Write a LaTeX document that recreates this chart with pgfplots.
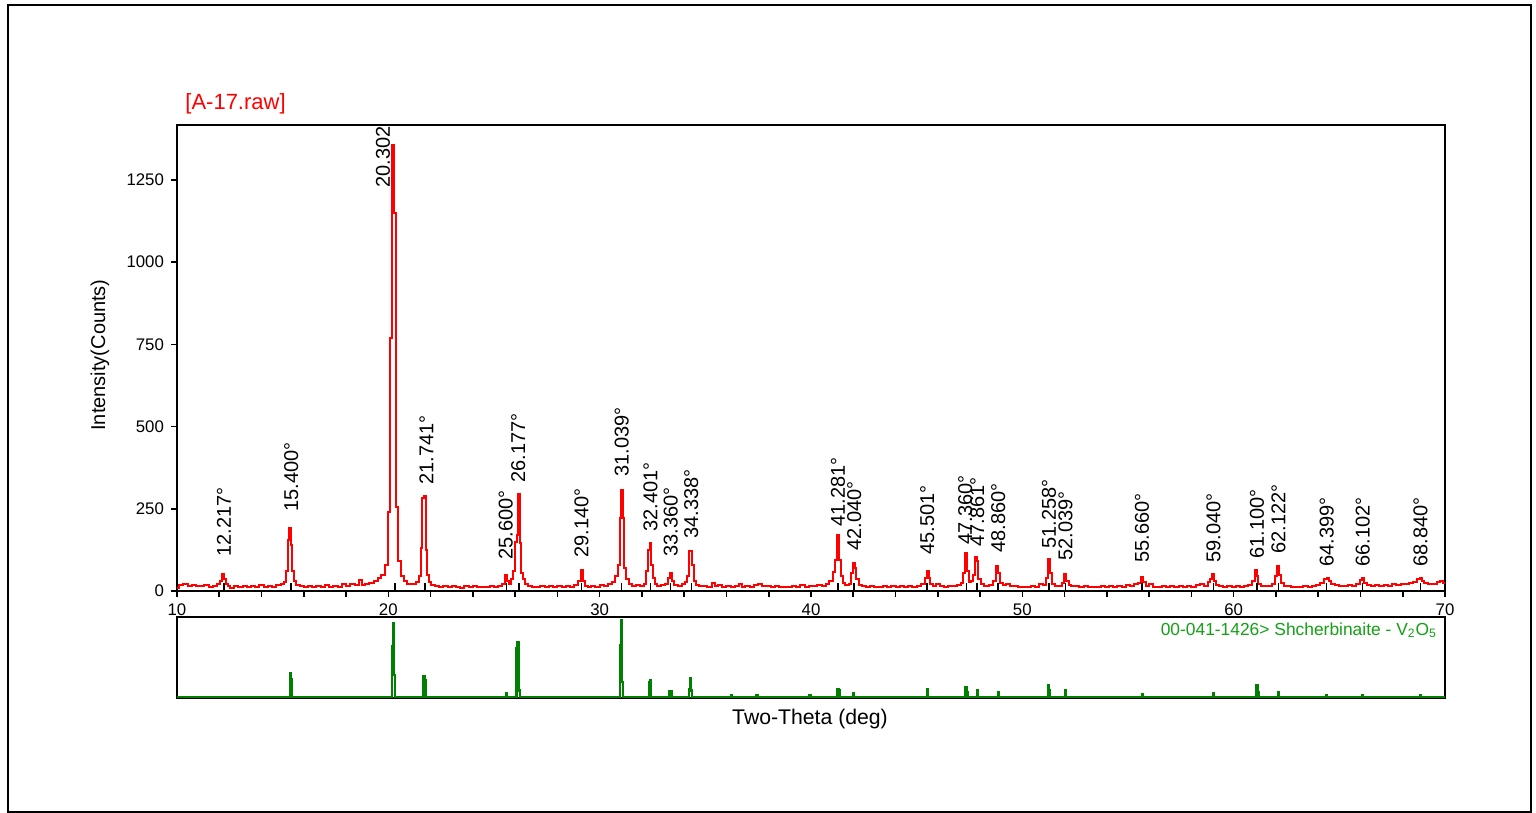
\documentclass[border=0pt]{standalone}
\usepackage{fontspec}
\setmainfont{Liberation Sans}
\usepackage{pgfplots}
\pgfplotsset{compat=1.18}
\definecolor{xred}{RGB}{255,0,0}
\definecolor{xgreen}{RGB}{0,128,0}
\definecolor{lblgreen}{RGB}{20,160,20}
\begin{document}
\begin{tikzpicture}[x=1pt,y=1pt]
\path[use as bounding box] (0,0) rectangle (768,406.5);
\draw[line width=1.2pt] (4,0.6) rectangle (765.5,404);
\begin{axis}[
  at={(88.5pt,111pt)}, anchor=south west,
  scale only axis, width=634pt, height=233pt,
  xmin=10, xmax=70, ymin=0, ymax=1417,
  axis line style={line width=1pt},
  xtick={10,20,...,70}, minor xtick={12,14,...,68},
  ytick={0,250,...,1250},
  tick align=outside, xtick pos=left, ytick pos=left,
  major tick length=3pt, minor tick length=3pt,
  tick style={black, line width=0.8pt},
  ticklabel style={font=\fontsize{8.4}{9}\selectfont},
  /pgf/number format/assume math mode=true,
  /pgf/number format/1000 sep={},
  every node/.append style={font=\fontsize{9}{10}\selectfont},
]
\addplot[xred, line width=1pt, const plot mark mid] coordinates {
(10.0,8) (10.2,18) (10.4,20) (10.6,14) (10.8,19) (11.0,16) (11.2,14) (11.4,18) (11.6,13) (11.8,16)
(12.0,22) (12.1,30) (12.2,52) (12.27,35) (12.35,20) (12.45,14) (12.6,10) (12.8,15) (13.0,12) (13.2,16)
(13.4,11) (13.6,15) (13.8,12) (14.0,17) (14.2,12) (14.4,16) (14.6,13) (14.8,18) (15.0,20) (15.1,26)
(15.2,62) (15.28,155) (15.36,192) (15.43,140) (15.5,62) (15.58,30) (15.7,18) (15.9,14) (16.1,12) (16.3,15)
(16.5,11) (16.7,14) (16.9,13) (17.1,17) (17.3,12) (17.5,16) (17.7,13) (17.9,20) (18.1,15) (18.3,22)
(18.5,18) (18.7,32) (18.8,18) (19.0,22) (19.2,25) (19.4,30) (19.6,38) (19.75,50) (19.9,80) (20.03,240)
(20.14,770) (20.24,1356) (20.33,1150) (20.42,255) (20.52,90) (20.65,45) (20.8,30) (21.0,22) (21.2,20) (21.4,28)
(21.5,45) (21.58,130) (21.65,282) (21.72,288) (21.8,125) (21.88,50) (21.97,28) (22.1,18) (22.3,14) (22.5,12)
(22.7,15) (22.9,11) (23.1,14) (23.3,12) (23.5,10) (23.7,14) (23.9,12) (24.1,16) (24.3,11) (24.5,13)
(24.7,12) (24.9,14) (25.1,13) (25.3,15) (25.45,22) (25.55,48) (25.65,30) (25.75,22) (25.85,35) (25.95,60)
(26.05,150) (26.12,170) (26.18,295) (26.24,145) (26.32,55) (26.42,35) (26.55,22) (26.7,16) (26.9,13) (27.1,12)
(27.3,15) (27.5,11) (27.7,14) (27.9,13) (28.1,16) (28.3,12) (28.5,14) (28.7,13) (28.9,18) (29.05,30)
(29.15,64) (29.25,30) (29.35,16) (29.5,12) (29.7,15) (29.9,13) (30.1,18) (30.3,14) (30.5,20) (30.65,28)
(30.8,45) (30.9,80) (30.98,222) (31.05,307) (31.12,222) (31.2,70) (31.3,35) (31.45,22) (31.6,15) (31.8,18)
(32.0,14) (32.15,22) (32.25,60) (32.32,125) (32.4,146) (32.47,79) (32.55,40) (32.65,22) (32.8,15) (33.0,18)
(33.15,20) (33.3,40) (33.38,55) (33.46,30) (33.6,18) (33.8,15) (33.95,20) (34.1,28) (34.2,45) (34.3,122)
(34.4,80) (34.48,30) (34.6,18) (34.8,14) (35.0,16) (35.2,13) (35.4,25) (35.5,14) (35.7,18) (35.9,12)
(36.1,15) (36.3,12) (36.5,14) (36.7,22) (36.8,13) (37.0,15) (37.2,12) (37.4,18) (37.6,20) (37.8,14)
(38.0,16) (38.2,12) (38.4,14) (38.6,11) (38.8,13) (39.0,12) (39.2,15) (39.4,13) (39.6,18) (39.8,12)
(40.0,16) (40.2,14) (40.4,18) (40.6,15) (40.8,20) (40.95,30) (41.1,58) (41.2,94) (41.28,170) (41.36,94)
(41.45,45) (41.55,25) (41.7,18) (41.85,22) (41.95,55) (42.03,85) (42.1,70) (42.2,35) (42.35,18) (42.5,14)
(42.7,12) (42.9,15) (43.1,13) (43.3,11) (43.5,14) (43.7,12) (43.9,16) (44.1,13) (44.3,15) (44.5,12)
(44.7,14) (44.9,13) (45.1,16) (45.3,20) (45.45,40) (45.52,61) (45.6,40) (45.7,22) (45.85,16) (46.0,22)
(46.2,14) (46.4,13) (46.6,16) (46.8,14) (47.0,18) (47.15,25) (47.25,55) (47.35,115) (47.42,60) (47.5,28)
(47.6,30) (47.7,50) (47.8,103) (47.88,90) (47.95,35) (48.1,20) (48.3,16) (48.5,18) (48.7,30) (48.82,76)
(48.9,55) (49.0,25) (49.15,18) (49.3,20) (49.5,16) (49.7,14) (49.9,12) (50.1,13) (50.3,12) (50.5,14)
(50.7,13) (50.9,22) (51.05,18) (51.15,40) (51.25,97) (51.33,55) (51.45,22) (51.6,15) (51.8,14) (51.95,25)
(52.04,52) (52.12,30) (52.25,18) (52.4,14) (52.6,15) (52.8,12) (53.0,14) (53.2,12) (53.4,13) (53.6,11)
(53.8,14) (54.0,13) (54.2,15) (54.4,12) (54.6,16) (54.8,13) (55.0,18) (55.2,14) (55.4,20) (55.55,25)
(55.66,43) (55.76,28) (55.9,16) (56.1,22) (56.3,13) (56.5,12) (56.7,15) (56.9,13) (57.1,14) (57.3,12)
(57.5,16) (57.7,13) (57.9,15) (58.1,12) (58.3,18) (58.5,20) (58.7,16) (58.85,28) (58.95,35) (59.04,52)
(59.12,30) (59.25,18) (59.4,15) (59.6,12) (59.8,14) (60.0,13) (60.2,15) (60.4,12) (60.6,14) (60.8,18)
(60.95,30) (61.05,64) (61.12,45) (61.22,22) (61.35,16) (61.5,14) (61.7,16) (61.9,22) (62.02,45) (62.1,76)
(62.18,50) (62.28,24) (62.45,16) (62.6,14) (62.8,12) (63.0,13) (63.2,12) (63.4,14) (63.6,13) (63.8,15)
(64.0,18) (64.2,25) (64.35,35) (64.45,40) (64.55,30) (64.7,22) (64.9,18) (65.1,16) (65.3,14) (65.5,18)
(65.7,15) (65.9,20) (66.05,32) (66.12,40) (66.22,25) (66.4,18) (66.6,15) (66.8,17) (67.0,14) (67.2,18)
(67.4,15) (67.6,20) (67.8,18) (68.0,22) (68.2,20) (68.4,25) (68.6,28) (68.75,35) (68.85,40) (68.95,30)
(69.1,25) (69.3,22) (69.5,20) (69.7,28) (69.85,30) (70.0,25)
};
\addplot[black, line width=0.8pt, ycomb, no marks] coordinates {
(12.217,24) (15.400,24) (20.302,24) (21.741,24) (25.600,24) (26.177,24) (29.140,24) (31.039,24)
(32.401,24) (33.360,24) (34.338,24) (41.281,24) (42.040,24) (45.501,24) (47.360,24) (47.861,24)
(48.860,24) (51.258,24) (52.039,24) (55.660,24) (59.040,24) (61.100,24) (62.122,24) (64.399,24)
(66.102,24) (68.840,24)
};
\node[rotate=90,anchor=west,inner sep=0] at (axis cs:12.217,103) {12.217°};
\node[rotate=90,anchor=west,inner sep=0] at (axis cs:15.400,240) {15.400°};
\node[rotate=90,anchor=west,inner sep=0] at (axis cs:19.750,1226) {20.302°};
\node[rotate=90,anchor=west,inner sep=0] at (axis cs:21.800,322) {21.741°};
\node[rotate=90,anchor=west,inner sep=0] at (axis cs:25.550,94) {25.600°};
\node[rotate=90,anchor=west,inner sep=0] at (axis cs:26.150,328) {26.177°};
\node[rotate=90,anchor=west,inner sep=0] at (axis cs:29.140,100) {29.140°};
\node[rotate=90,anchor=west,inner sep=0] at (axis cs:31.039,347) {31.039°};
\node[rotate=90,anchor=west,inner sep=0] at (axis cs:32.401,179) {32.401°};
\node[rotate=90,anchor=west,inner sep=0] at (axis cs:33.360,103) {33.360°};
\node[rotate=90,anchor=west,inner sep=0] at (axis cs:34.338,158) {34.338°};
\node[rotate=90,anchor=west,inner sep=0] at (axis cs:41.281,195) {41.281°};
\node[rotate=90,anchor=west,inner sep=0] at (axis cs:42.040,122) {42.040°};
\node[rotate=90,anchor=west,inner sep=0] at (axis cs:45.501,110) {45.501°};
\node[rotate=90,anchor=west,inner sep=0] at (axis cs:47.300,140) {47.360°};
\node[rotate=90,anchor=west,inner sep=0] at (axis cs:47.861,134) {47.861°};
\node[rotate=90,anchor=west,inner sep=0] at (axis cs:48.860,116) {48.860°};
\node[rotate=90,anchor=west,inner sep=0] at (axis cs:51.258,128) {51.258°};
\node[rotate=90,anchor=west,inner sep=0] at (axis cs:52.039,91) {52.039°};
\node[rotate=90,anchor=west,inner sep=0] at (axis cs:55.660,85) {55.660°};
\node[rotate=90,anchor=west,inner sep=0] at (axis cs:59.040,85) {59.040°};
\node[rotate=90,anchor=west,inner sep=0] at (axis cs:61.100,97) {61.100°};
\node[rotate=90,anchor=west,inner sep=0] at (axis cs:62.122,113) {62.122°};
\node[rotate=90,anchor=west,inner sep=0] at (axis cs:64.399,73) {64.399°};
\node[rotate=90,anchor=west,inner sep=0] at (axis cs:66.102,73) {66.102°};
\node[rotate=90,anchor=west,inner sep=0] at (axis cs:68.840,73) {68.840°};
\end{axis}
\begin{axis}[
  at={(88.5pt,57.5pt)}, anchor=south west,
  scale only axis, width=634pt, height=40.5pt,
  xmin=10, xmax=70, ymin=-1.6, ymax=103,
  axis line style={line width=1pt},
  xtick=\empty, ytick=\empty,
]
\addplot[xgreen, line width=1.2pt, const plot mark mid, no marks] coordinates {
(10,0) (15.33,0) (15.36,31) (15.42,23) (15.46,0)
(20.15,0) (20.19,65) (20.24,95) (20.3,28) (20.35,0)
(21.64,0) (21.68,26) (21.74,21) (21.78,0)
(25.56,0) (25.6,4) (25.64,0)
(26.04,0) (26.08,63) (26.14,71) (26.2,8) (26.24,0)
(30.93,0) (30.97,67) (31.03,99) (31.08,19) (31.12,0)
(32.32,0) (32.36,19) (32.42,22) (32.46,0)
(33.28,0) (33.32,7) (33.4,7) (33.44,0)
(34.2,0) (34.24,10) (34.3,24) (34.35,8) (34.39,0)
(36.21,0) (36.25,2) (36.29,0) (37.41,0) (37.45,2) (37.49,0) (39.91,0) (39.95,2) (39.99,0)
(41.24,0) (41.28,10) (41.34,8) (41.38,0)
(41.98,0) (42.02,5) (42.06,0)
(45.46,0) (45.5,10) (45.54,0)
(47.28,0) (47.32,12) (47.38,6) (47.42,0)
(47.83,0) (47.87,8) (47.91,0)
(48.83,0) (48.87,6) (48.91,0)
(51.19,0) (51.23,15) (51.29,8) (51.33,0)
(52.01,0) (52.05,8) (52.09,0)
(55.66,0) (55.7,3) (55.74,0)
(59.01,0) (59.05,4) (59.09,0)
(61.06,0) (61.1,15) (61.16,6) (61.2,0)
(62.08,0) (62.12,6) (62.16,0)
(64.36,0) (64.4,2) (64.44,0)
(66.06,0) (66.1,2) (66.14,0)
(68.81,0) (68.85,2) (68.89,0) (70,0)
};
\node[anchor=east, text=lblgreen, inner sep=0, font=\fontsize{8.7}{9}\selectfont] at (rel axis cs:0.994,0.84) {00-041-1426> Shcherbinaite - V\textsubscript{2}O\textsubscript{5}};
\end{axis}
\node[rotate=90, font=\fontsize{10}{12}\selectfont] at (50,229) {Intensity(Counts)};
\node[font=\fontsize{10.6}{12}\selectfont] at (405,47) {Two-Theta (deg)};
\node[anchor=west, text=xred, inner sep=0, font=\fontsize{11}{12}\selectfont] at (92.5,354.5) {[A-17.raw]};
\end{tikzpicture}
\end{document}
